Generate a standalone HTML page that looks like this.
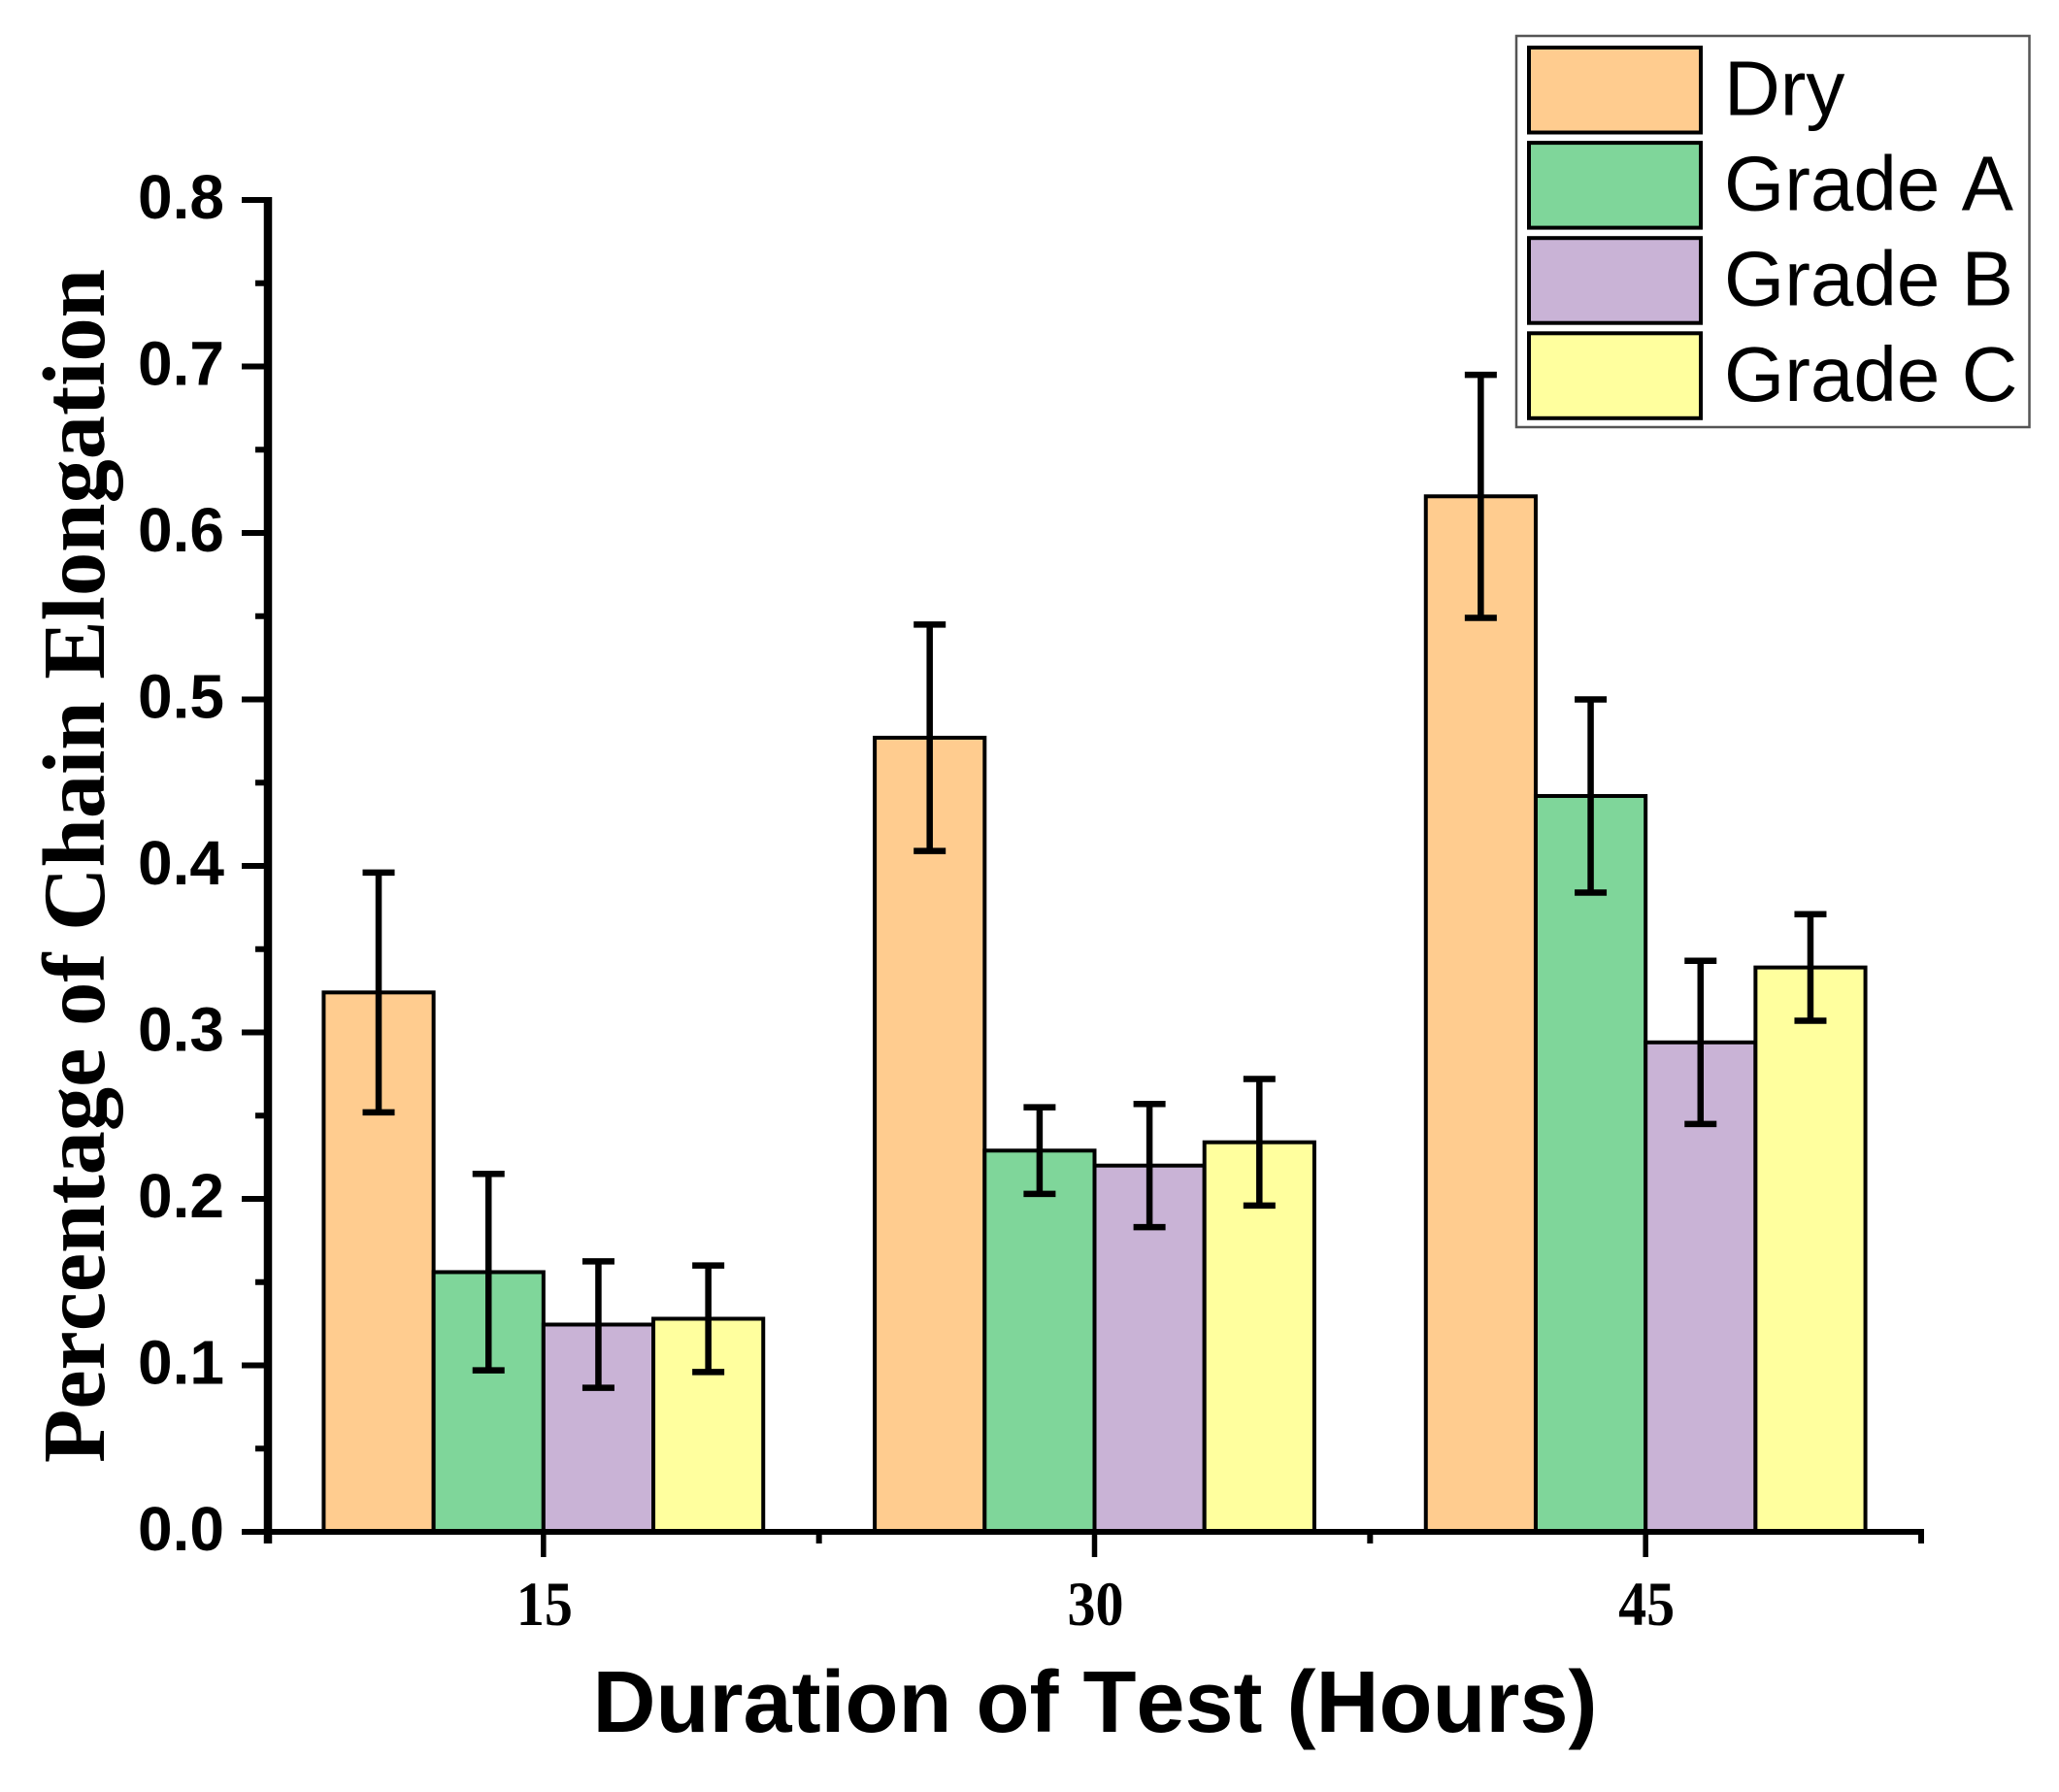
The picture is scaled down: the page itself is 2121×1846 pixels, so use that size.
<!DOCTYPE html>
<html lang="en">
<head>
<meta charset="utf-8">
<title>Percentage of Chain Elongation</title>
<style>
html,body{margin:0;padding:0;background:#fff;width:2121px;height:1846px;overflow:hidden}
svg{display:block}
text{font-kerning:none}
.sans{font-family:"Liberation Sans",Arial,sans-serif}
.serif{font-family:"Liberation Serif","Times New Roman",serif}
</style>
</head>
<body>
<svg id="chart" xmlns="http://www.w3.org/2000/svg" width="2121" height="1846" viewBox="0 0 2121 1846">
<rect x="0" y="0" width="2121" height="1846" fill="#ffffff"/>
<g id="bars"></g>
<g id="errors"></g>
<g id="axes"></g>
<text class="serif" transform="translate(107 1507) rotate(-90)" text-anchor="start" font-size="91" font-weight="700" fill="#000" textLength="1230" lengthAdjust="spacingAndGlyphs">Percentage of Chain Elongation</text>
<text class="sans" x="1128" y="1784" text-anchor="middle" font-size="90" font-weight="700" fill="#000">Duration of Test (Hours)</text>
<g id="legend"></g>
</svg>
<script>
const categories = ['15', '30', '45'];
const seriesNames = ['Dry', 'Grade A', 'Grade B', 'Grade C'];
const dryValues = [0.324, 0.477, 0.622];
const gradeAValues = [0.156, 0.229, 0.442];
const gradeBValues = [0.1245, 0.220, 0.294];
const gradeCValues = [0.128, 0.234, 0.339];
const dryErrors = [0.072, 0.068, 0.073];
const gradeAErrors = [0.059, 0.026, 0.058];
const gradeBErrors = [0.038, 0.037, 0.049];
const gradeCErrors = [0.032, 0.038, 0.032];
const yTickLabels = ['0.0', '0.1', '0.2', '0.3', '0.4', '0.5', '0.6', '0.7', '0.8'];

const seriesValues = [dryValues, gradeAValues, gradeBValues, gradeCValues];
const seriesErrors = [dryErrors, gradeAErrors, gradeBErrors, gradeCErrors];
const seriesColors = ['#FFCC8F', '#7FD69A', '#C9B3D6', '#FFFF9E'];

const NS = 'http://www.w3.org/2000/svg';
const plotLeft = 276, plotRight = 1979, plotTop = 206, plotBottom = 1578;
const yMax = 0.8;
const catStep = (plotRight - plotLeft) / categories.length;
const barWidth = 113.2;

function yScale(v) { return plotBottom - (v / yMax) * (plotBottom - plotTop); }
function xCategory(i) { return plotLeft + catStep * (i + 0.5); }
function xBarLeft(i, s) { return xCategory(i) + (s - seriesValues.length / 2) * barWidth; }

function make(tag, attrs, parent) {
  const el = document.createElementNS(NS, tag);
  for (const k in attrs) el.setAttribute(k, attrs[k]);
  parent.appendChild(el);
  return el;
}

const barsG = document.getElementById('bars');
const errorsG = document.getElementById('errors');
const axesG = document.getElementById('axes');
const legendG = document.getElementById('legend');

seriesValues.forEach(function (vals, s) {
  vals.forEach(function (v, i) {
    const x = xBarLeft(i, s);
    const y = yScale(v);
    const bar = make('rect', { x: x, y: y, width: barWidth, height: plotBottom - y, fill: seriesColors[s], stroke: '#000', 'stroke-width': 4 }, barsG);
    
    

    const err = seriesErrors[s][i];
    const cx = x + barWidth / 2;
    const yHi = yScale(v + err);
    const yLo = yScale(v - err);
    const eb = make('path', { d: 'M' + cx + ' ' + yHi + 'V' + yLo + 'M' + (cx - 16.5) + ' ' + yHi + 'H' + (cx + 16.5) + 'M' + (cx - 16.5) + ' ' + yLo + 'H' + (cx + 16.5), fill: 'none', stroke: '#000', 'stroke-width': 6.5 }, errorsG);
    
    
  });
});

const yAxisLine = make('line', { x1: plotLeft, y1: plotTop - 3, x2: plotLeft, y2: plotBottom + 12, stroke: '#000', 'stroke-width': 8.5 }, axesG);



const xAxisLine = make('line', { x1: 249, y1: plotBottom, x2: plotRight + 3, y2: plotBottom, stroke: '#000', 'stroke-width': 6 }, axesG);



yTickLabels.forEach(function (label, i) {
  const v = i / 10;
  const y = yScale(v);
  const tick = make('line', { x1: 249, y1: y, x2: plotLeft, y2: y, stroke: '#000', 'stroke-width': 6 }, axesG);
  
  

  const text = make('text', { x: 231, y: y + 19, 'text-anchor': 'end', 'font-size': 64, 'font-weight': 700, fill: '#000', class: 'sans', textLength: 89, lengthAdjust: 'spacingAndGlyphs' }, axesG);
  text.textContent = label;
  
  

  if (i < yTickLabels.length - 1) {
    const ym = yScale(v + 0.05);
    const minor = make('line', { x1: 263, y1: ym, x2: plotLeft, y2: ym, stroke: '#000', 'stroke-width': 6 }, axesG);
    
    
  }
});

categories.forEach(function (label, i) {
  const x = xCategory(i);
  const tick = make('line', { x1: x, y1: plotBottom, x2: x, y2: plotBottom + 26, stroke: '#000', 'stroke-width': 5.5 }, axesG);
  
  

  const text = make('text', { x: x + 1, y: 1674, 'text-anchor': 'middle', 'font-size': 65, 'font-weight': 700, fill: '#000', class: 'serif', textLength: 58, lengthAdjust: 'spacingAndGlyphs' }, axesG);
  text.textContent = label;
  
  
});

for (let i = 1; i <= categories.length; i++) {
  const x = plotLeft + catStep * i;
  const minor = make('line', { x1: x, y1: plotBottom, x2: x, y2: plotBottom + 12, stroke: '#000', 'stroke-width': 6 }, axesG);
  
  
}

const legendBox = make('rect', { x: 1562, y: 37, width: 528.5, height: 403, fill: '#fff', stroke: '#555', 'stroke-width': 2.5 }, legendG);



seriesNames.forEach(function (name, s) {
  const top = 49 + s * 98.1;
  const swatch = make('rect', { x: 1575, y: top, width: 177, height: 87.5, fill: seriesColors[s], stroke: '#000', 'stroke-width': 4 }, legendG);
  
  

  const label = make('text', { x: 1776, y: top + 69.5, 'font-size': 80, fill: '#000', class: 'sans' }, legendG);
  label.textContent = name;
  
  
});
</script>
</body>
</html>
